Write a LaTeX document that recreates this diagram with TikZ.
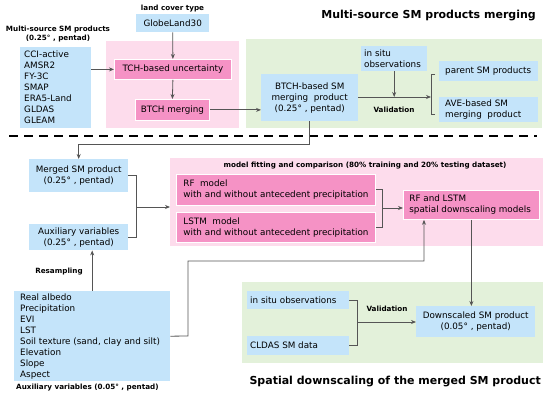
\documentclass[tikz,border=0pt]{standalone}
\usepackage{fontspec}
\setmainfont{DejaVu Sans}
\usetikzlibrary{arrows.meta}
\definecolor{blu}{HTML}{C4E4FA}
\definecolor{pnk}{HTML}{F592C5}
\definecolor{lpnk}{HTML}{FDDCEC}
\definecolor{grn}{HTML}{E3F1DA}
\definecolor{ln}{HTML}{555555}
\tikzset{
  box/.style={anchor=north west, inner xsep=0pt, inner ysep=0pt, font=\fontsize{8.8}{11}\selectfont},
  bluebox/.style={box, fill=blu},
  pinkbox/.style={box, fill=pnk, draw=white, line width=0.8pt},
  bg/.style={anchor=north west, inner sep=0pt},
  lbl/.style={font=\fontsize{7.2}{8}\selectfont\bfseries, inner sep=0pt},
  ttl/.style={font=\fontsize{11}{13}\selectfont\bfseries, inner sep=0pt},
  conn/.style={draw=ln, line width=0.8pt},
  arr/.style={conn, -{Stealth[length=5pt,width=4pt]}},
}
\newcommand{\bxl}[3]{\hspace*{#2pt}\parbox[c]{\dimexpr #1pt - #2pt\relax}{\raggedright #3}}
\begin{document}
\begin{tikzpicture}[x=1pt,y=-1pt]
\useasboundingbox (0,0) rectangle (550,401);
% backgrounds
\node[bg, fill=lpnk, minimum width=133, minimum height=87] (bgA) at (106,41) {};
\node[bg, fill=grn, minimum width=296, minimum height=89] (bgB) at (246,39) {};
\node[bg, fill=lpnk, minimum width=373, minimum height=88] (bgC) at (170,158) {};
\node[bg, fill=grn, minimum width=301, minimum height=81] (bgD) at (242,282) {};
% titles and labels
\node[ttl, anchor=east] (t1) at (536,16) {Multi-source SM products merging};
\node[ttl, anchor=east] (t2) at (541,382) {Spatial downscaling of the merged SM product};
\node[lbl] (l1) at (172.5,9) {land cover type};
\node[lbl, align=center, font=\fontsize{7.2}{9}\selectfont\bfseries] (l2) at (58,34.5) {Multi-source SM products\\(0.25° , pentad)};
\node[lbl] (l3) at (394,110) {Validation};
\node[lbl] (l4) at (365,166) {model fitting and comparison (80\% training and 20\% testing dataset)};
\node[lbl] (l5) at (59,272) {Resampling};
\node[lbl, anchor=west] (l6) at (16,388) {Auxiliary variables (0.05° , pentad)};
\node[lbl] (l7) at (387,309) {Validation};
% top boxes
\node[bluebox, minimum width=73, minimum height=18] (globe) at (136,14) {GlobeLand30};
\node[bluebox, minimum width=71, minimum height=81] (list) at (20,47) {\bxl{71}{4}{CCI-active\\AMSR2\\FY-3C\\SMAP\\ERA5-Land\\GLDAS\\GLEAM}};
\node[pinkbox, minimum width=117, minimum height=20] (tch) at (114,59) {TCH-based uncertainty};
\node[pinkbox, minimum width=74, minimum height=21] (btch) at (135,99) {BTCH merging};
\node[bluebox, minimum width=97, minimum height=47, align=center] (bsm) at (261,74) {BTCH-based SM\\merging~ product\\(0.25° , pentad)};
\node[bluebox, minimum width=66, minimum height=25] (insitu) at (361,46) {\bxl{66}{3}{in situ\\observations}};
\node[bluebox, minimum width=99, minimum height=20] (parent) at (439,61) {\bxl{99}{6}{parent SM products}};
\node[bluebox, minimum width=99, minimum height=25] (ave) at (439,97) {\bxl{99}{6}{AVE-based SM\\merging~ product}};
% bottom boxes
\node[bluebox, minimum width=99, minimum height=33, align=center] (merged) at (29,159) {Merged SM product\\(0.25° , pentad)};
\node[bluebox, minimum width=99, minimum height=26, align=center] (auxs) at (29,224) {Auxiliary variables\\(0.25° , pentad)};
\node[bluebox, minimum width=156, minimum height=90] (long) at (14,291) {\bxl{156}{6}{Real albedo\\Precipitation\\EVI\\LST\\Soil texture (sand, clay and silt)\\Elevation\\Slope\\Aspect}};
\node[pinkbox, minimum width=199, minimum height=31] (rf) at (176,174) {\bxl{199}{7}{RF~ model\\with and without antecedent precipitation}};
\node[pinkbox, minimum width=199, minimum height=30] (lstm) at (176,212) {\bxl{199}{7}{LSTM~ model\\with and without antecedent precipitation}};
\node[pinkbox, minimum width=136, minimum height=29] (rfl) at (403,190) {\bxl{136}{6}{RF and LSTM\\spatial downscaling models}};
\node[bluebox, minimum width=102, minimum height=18] (insitu2) at (247,291) {\bxl{102}{3}{in situ observations}};
\node[bluebox, minimum width=102, minimum height=19] (cldas) at (247,336) {\bxl{102}{3}{CLDAS SM data}};
\node[bluebox, minimum width=119, minimum height=31, align=center] (down) at (416,306) {Downscaled SM product\\(0.05° , pentad)};
% dashed separator
\draw[line width=2.6pt, dash pattern=on 9pt off 6pt] (9,136) -- (537,136);
% connectors top
\draw[arr] (list.east |- tch.west) -- (tch.west);
\draw[arr] (globe.south) -- (tch.north);
\draw[arr] (tch.south) -- (btch.north);
\draw[arr] (btch.east) -- (bsm.west |- btch.east);
\coordinate (vb) at (431,97);
\draw[arr] (bsm.east |- vb) -- (vb);
\draw[arr] (insitu.south) -- (insitu.south |- vb);
\draw[conn] (435,74) -- (431,74) -- (431,114) -- (435,114);
% connector to bottom section
\draw[arr] (bsm.south) -- (bsm.south |- 0,144) -| (merged.north);
% merged/aux bracket
\draw[conn] (merged.east) -- ++(8,0) |- (auxs.east);
\coordinate (mb) at (136,207);
\draw[arr] (mb) -- (bgC.west |- mb);
% rf/lstm bracket
\draw[conn] (rf.east) -- ++(7,0) |- (lstm.east);
\coordinate (rb) at (382,208);
\draw[arr] (rb) -- (rfl.west |- rb);
% long list to rfl
\coordinate (rin) at ([xshift=21pt]rfl.south west);
\draw[arr] (long.east) -- (188,336) -- (188,261) -| (rin);
% resampling
\draw[arr] (long.north) -- (long.north |- auxs.south);
% rfl to downscaled
\draw[arr] (rfl.south) -- (rfl.south |- down.north);
% bottom validation bracket
\draw[conn] (insitu2.east) -- ++(8,0) |- (cldas.east);
\coordinate (db) at (357,322);
\draw[arr] (db) -- (down.west |- db);
\end{tikzpicture}
\end{document}
